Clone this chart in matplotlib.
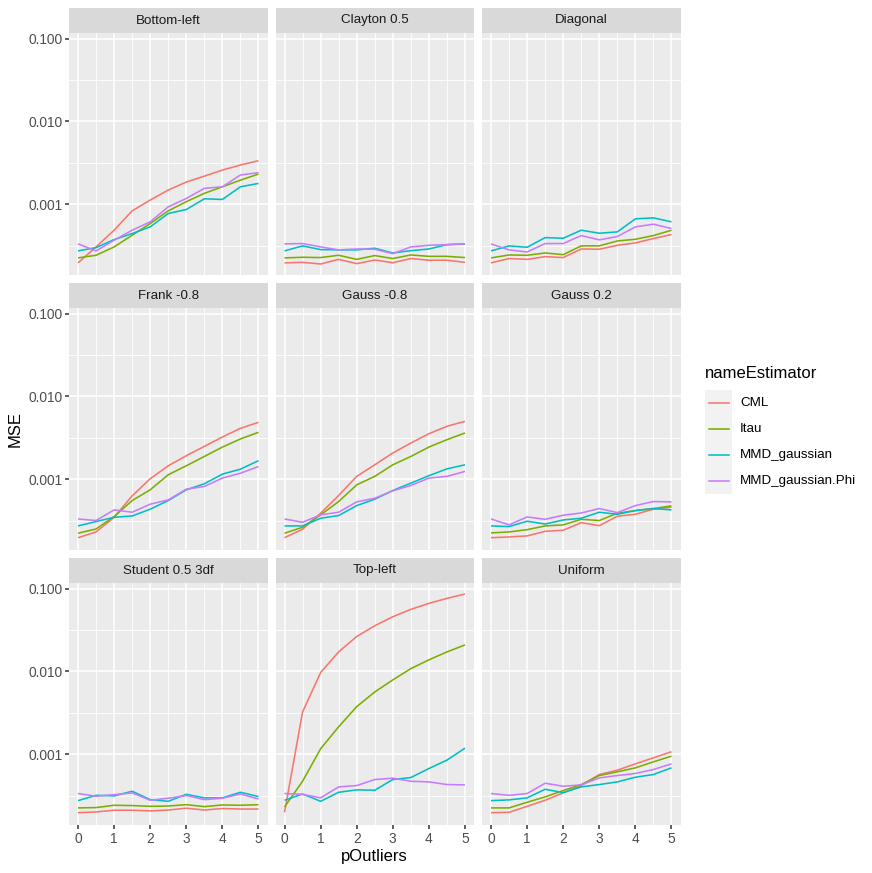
import numpy as np
import matplotlib
matplotlib.use("Agg")
import matplotlib.pyplot as plt
from matplotlib.lines import Line2D
from matplotlib.patches import Rectangle
from matplotlib.ticker import NullFormatter

plt.rcParams['font.family'] = ['Liberation Sans', 'DejaVu Sans']

# x values and series names
pOutliers = [0, 0.5, 1, 1.5, 2, 2.5, 3, 3.5, 4, 4.5, 5]
estimators = ["CML", "Itau", "MMD_gaussian", "MMD_gaussian.Phi"]
colors = ["#F8766D", "#7CAE00", "#00BFC4", "#C77CFF"]

# MSE per panel, rows = CML, Itau, MMD_gaussian, MMD_gaussian.Phi
bottom_left = [
    [1.95e-4, 3.04e-4, 4.84e-4, 8.30e-4, 1.12e-3, 1.48e-3, 1.85e-3, 2.18e-3, 2.58e-3, 2.97e-3, 3.35e-3],
    [2.24e-4, 2.41e-4, 3.04e-4, 4.21e-4, 5.83e-4, 8.30e-4, 1.07e-3, 1.35e-3, 1.62e-3, 1.95e-3, 2.31e-3],
    [2.72e-4, 2.98e-4, 3.73e-4, 4.41e-4, 5.31e-4, 7.70e-4, 8.61e-4, 1.16e-3, 1.14e-3, 1.62e-3, 1.78e-3],
    [3.31e-4, 2.72e-4, 3.66e-4, 4.84e-4, 6.11e-4, 9.28e-4, 1.17e-3, 1.55e-3, 1.62e-3, 2.25e-3, 2.40e-3],
]
clayton = [
    [1.95e-4, 1.98e-4, 1.89e-4, 2.15e-4, 1.91e-4, 2.11e-4, 1.96e-4, 2.20e-4, 2.10e-4, 2.10e-4, 1.98e-4],
    [2.24e-4, 2.28e-4, 2.26e-4, 2.41e-4, 2.15e-4, 2.39e-4, 2.20e-4, 2.43e-4, 2.34e-4, 2.34e-4, 2.26e-4],
    [2.72e-4, 3.13e-4, 2.82e-4, 2.80e-4, 2.80e-4, 2.93e-4, 2.57e-4, 2.74e-4, 2.87e-4, 3.24e-4, 3.30e-4],
    [3.31e-4, 3.34e-4, 3.04e-4, 2.80e-4, 2.87e-4, 2.85e-4, 2.52e-4, 3.04e-4, 3.18e-4, 3.24e-4, 3.31e-4],
]
diagonal = [
    [1.95e-4, 2.20e-4, 2.15e-4, 2.32e-4, 2.26e-4, 2.87e-4, 2.85e-4, 3.18e-4, 3.40e-4, 3.84e-4, 4.29e-4],
    [2.24e-4, 2.43e-4, 2.41e-4, 2.57e-4, 2.45e-4, 3.13e-4, 3.13e-4, 3.59e-4, 3.76e-4, 4.17e-4, 4.84e-4],
    [2.72e-4, 3.13e-4, 3.01e-4, 3.94e-4, 3.87e-4, 4.84e-4, 4.45e-4, 4.62e-4, 6.64e-4, 6.83e-4, 6.11e-4],
    [3.30e-4, 2.80e-4, 2.64e-4, 3.34e-4, 3.34e-4, 4.17e-4, 3.70e-4, 4.06e-4, 5.31e-4, 5.72e-4, 5.07e-4],
]
frank = [
    [1.96e-4, 2.30e-4, 3.46e-4, 6.28e-4, 1.01e-3, 1.45e-3, 1.92e-3, 2.49e-3, 3.23e-3, 4.11e-3, 4.86e-3],
    [2.22e-4, 2.50e-4, 3.53e-4, 5.51e-4, 7.43e-4, 1.13e-3, 1.45e-3, 1.88e-3, 2.44e-3, 3.06e-3, 3.68e-3],
    [2.72e-4, 3.07e-4, 3.46e-4, 3.59e-4, 4.33e-4, 5.51e-4, 7.43e-4, 8.78e-4, 1.15e-3, 1.32e-3, 1.67e-3],
    [3.30e-4, 3.16e-4, 4.25e-4, 3.98e-4, 4.98e-4, 5.61e-4, 7.57e-4, 8.15e-4, 1.03e-3, 1.18e-3, 1.42e-3],
]
gauss_neg = [
    [1.96e-4, 2.48e-4, 3.87e-4, 6.34e-4, 1.08e-3, 1.49e-3, 2.07e-3, 2.73e-3, 3.54e-3, 4.35e-3, 5.00e-3],
    [2.22e-4, 2.62e-4, 3.70e-4, 5.36e-4, 8.53e-4, 1.08e-3, 1.49e-3, 1.88e-3, 2.44e-3, 3.00e-3, 3.61e-3],
    [2.72e-4, 2.72e-4, 3.37e-4, 3.63e-4, 4.79e-4, 5.72e-4, 7.29e-4, 8.94e-4, 1.10e-3, 1.33e-3, 1.49e-3],
    [3.30e-4, 3.01e-4, 3.70e-4, 3.98e-4, 5.31e-4, 5.88e-4, 7.22e-4, 8.38e-4, 1.03e-3, 1.08e-3, 1.24e-3],
]
gauss_pos = [
    [1.96e-4, 2.00e-4, 2.06e-4, 2.34e-4, 2.41e-4, 2.98e-4, 2.74e-4, 3.56e-4, 3.76e-4, 4.33e-4, 4.58e-4],
    [2.24e-4, 2.30e-4, 2.45e-4, 2.72e-4, 2.80e-4, 3.27e-4, 3.16e-4, 3.87e-4, 4.17e-4, 4.41e-4, 4.75e-4],
    [2.72e-4, 2.67e-4, 3.10e-4, 2.87e-4, 3.21e-4, 3.37e-4, 3.98e-4, 3.76e-4, 4.17e-4, 4.41e-4, 4.25e-4],
    [3.30e-4, 2.80e-4, 3.49e-4, 3.27e-4, 3.66e-4, 3.90e-4, 4.41e-4, 3.94e-4, 4.79e-4, 5.36e-4, 5.31e-4],
]
student = [
    [1.96e-4, 2.00e-4, 2.10e-4, 2.10e-4, 2.06e-4, 2.11e-4, 2.22e-4, 2.11e-4, 2.20e-4, 2.17e-4, 2.17e-4],
    [2.24e-4, 2.26e-4, 2.41e-4, 2.39e-4, 2.34e-4, 2.36e-4, 2.45e-4, 2.32e-4, 2.43e-4, 2.41e-4, 2.45e-4],
    [2.74e-4, 3.18e-4, 3.13e-4, 3.56e-4, 2.82e-4, 2.69e-4, 3.27e-4, 2.96e-4, 2.96e-4, 3.46e-4, 3.07e-4],
    [3.34e-4, 3.10e-4, 3.24e-4, 3.40e-4, 2.77e-4, 2.93e-4, 3.16e-4, 2.82e-4, 2.93e-4, 3.30e-4, 2.87e-4],
]
top_left = [
    [1.98e-4, 3.23e-3, 9.68e-3, 1.72e-2, 2.64e-2, 3.56e-2, 4.58e-2, 5.62e-2, 6.64e-2, 7.63e-2, 8.62e-2],
    [2.30e-4, 4.70e-4, 1.16e-3, 2.14e-3, 3.75e-3, 5.64e-3, 7.89e-3, 1.08e-2, 1.38e-2, 1.72e-2, 2.09e-2],
    [2.77e-4, 3.30e-4, 2.69e-4, 3.46e-4, 3.70e-4, 3.66e-4, 4.93e-4, 5.21e-4, 6.70e-4, 8.46e-4, 1.18e-3],
    [3.34e-4, 3.27e-4, 2.96e-4, 4.02e-4, 4.17e-4, 4.93e-4, 5.12e-4, 4.70e-4, 4.62e-4, 4.29e-4, 4.25e-4],
]
uniform = [
    [1.96e-4, 1.98e-4, 2.34e-4, 2.77e-4, 3.40e-4, 4.17e-4, 5.67e-4, 6.40e-4, 7.63e-4, 9.03e-4, 1.07e-3],
    [2.24e-4, 2.24e-4, 2.62e-4, 3.04e-4, 3.63e-4, 4.29e-4, 5.51e-4, 6.11e-4, 6.83e-4, 8.07e-4, 9.46e-4],
    [2.74e-4, 2.80e-4, 2.96e-4, 3.76e-4, 3.43e-4, 4.02e-4, 4.29e-4, 4.62e-4, 5.26e-4, 5.67e-4, 6.83e-4],
    [3.34e-4, 3.18e-4, 3.34e-4, 4.45e-4, 4.09e-4, 4.25e-4, 5.16e-4, 5.51e-4, 5.84e-4, 6.52e-4, 7.63e-4],
]

panel_titles = ["Bottom-left", "Clayton 0.5", "Diagonal",
                "Frank -0.8", "Gauss -0.8", "Gauss 0.2",
                "Student 0.5 3df", "Top-left", "Uniform"]
panel_data = [bottom_left, clayton, diagonal, frank, gauss_neg, gauss_pos,
              student, top_left, uniform]

y_ticks = [0.001, 0.01, 0.1]
y_ticklabels = ["0.001", "0.010", "0.100"]
x_ticks = [0, 1, 2, 3, 4, 5]

W, H = 872, 873
fig = plt.figure(figsize=(W / 100, H / 100), dpi=100)

def fig_box(left, top, width, height):
    # pixel box (top-left origin) -> figure fraction
    return [left / W, 1 - (top + height) / H, width / W, height / H]

# shared log y limits with ggplot-like 5% expansion
all_vals = np.log10(np.concatenate([np.ravel(d) for d in panel_data]))
lo, hi = all_vals.min(), all_vals.max()
pad = 0.05 * (hi - lo)
ylim = (10 ** (lo - pad), 10 ** (hi + pad))

col_left = [69, 275.5, 482]
panel_w = 198.5
row_top = [33, 308, 583]
panel_h = 242
strip_h = 25

for i, (title, data) in enumerate(zip(panel_titles, panel_data)):
    r, c = divmod(i, 3)
    ax = fig.add_axes(fig_box(col_left[c], row_top[r], panel_w, panel_h))
    ax.set_facecolor("#EBEBEB")
    for k, series in enumerate(data):
        ax.plot(pOutliers, series, color=colors[k], lw=1.15, solid_capstyle="butt")
    ax.set_yscale("log")
    ax.set_ylim(*ylim)
    ax.set_xlim(-0.25, 5.25)
    ax.set_yticks(y_ticks)
    ax.set_yticks([10 ** -3.5, 10 ** -2.5, 10 ** -1.5], minor=True)
    ax.yaxis.set_minor_formatter(NullFormatter())
    ax.set_xticks(x_ticks)
    ax.set_xticks([0.5, 1.5, 2.5, 3.5, 4.5], minor=True)
    ax.grid(which="major", color="white", lw=1.15)
    ax.grid(which="minor", color="white", lw=0.6)
    ax.set_axisbelow(True)
    for s in ax.spines.values():
        s.set_visible(False)
    ax.tick_params(which="minor", length=0)
    ax.tick_params(which="major", length=3, width=1.1, color="#333333",
                   labelcolor="#4D4D4D", labelsize=9.9, pad=1.8)
    if c == 0:
        ax.set_yticklabels(y_ticklabels)
    else:
        ax.tick_params(axis="y", which="major", length=0, labelleft=False)
    if r == 2:
        ax.set_xticklabels([str(t) for t in x_ticks])
    else:
        ax.tick_params(axis="x", which="major", length=0, labelbottom=False)

    sax = fig.add_axes(fig_box(col_left[c], row_top[r] - strip_h, panel_w, strip_h))
    sax.set_facecolor("#D9D9D9")
    sax.set_xticks([])
    sax.set_yticks([])
    for s in sax.spines.values():
        s.set_visible(False)
    sax.text(0.5, 0.5, title, ha="center", va="center", fontsize=9.6,
             color="#1A1A1A", transform=sax.transAxes)

# axis titles
fig.text(374.5 / W, 1 - 856 / H, "pOutliers", ha="center", va="center", fontsize=12)
fig.text(15 / W, 1 - 429 / H, "MSE", ha="center", va="center", rotation=90, fontsize=12)

# legend, drawn by hand in ggplot style
fig.text(705 / W, 1 - 374 / H, "nameEstimator", ha="left", va="center", fontsize=12)
key_top, key_h = 390, 26
fig.add_artist(Rectangle((705 / W, 1 - (key_top + 4 * key_h) / H), 27 / W, 4 * key_h / H,
                         transform=fig.transFigure, facecolor="#F2F2F2", edgecolor="none"))
for k, name in enumerate(estimators):
    yc = 1 - (key_top + key_h * (k + 0.5)) / H
    fig.add_artist(Line2D([708.5 / W, 728.5 / W], [yc, yc], transform=fig.transFigure,
                          color=colors[k], lw=1.15))
    fig.text(740 / W, yc, name, ha="left", va="center", fontsize=9.6)

plt.savefig("out.png", dpi=100)
